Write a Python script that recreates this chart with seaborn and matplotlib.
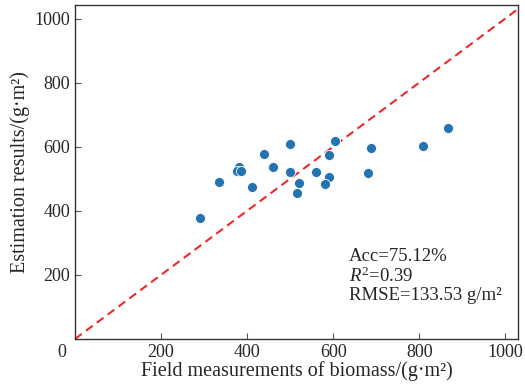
import matplotlib
matplotlib.use("Agg")
import matplotlib.pyplot as plt
import seaborn as sns
import pandas as pd

measured = [291, 335, 380, 376, 386, 412, 440, 459, 500, 500, 521, 515, 560, 590, 590, 581, 605, 689, 682, 808, 866]
estimated = [378, 490, 538, 525, 523, 474, 578, 538, 608, 520, 486, 454, 520, 574, 505, 483, 619, 596, 518, 603, 659]
ticks = [200, 400, 600, 800, 1000]
stats_text = ["Acc=75.12%", "$R^2$=0.39", "RMSE=133.53 g/m²"]

sns.set_style("ticks")
plt.rcParams['font.family'] = ['Liberation Serif', 'DejaVu Serif']
plt.rcParams['mathtext.fontset'] = 'custom'
plt.rcParams['mathtext.rm'] = 'Liberation Serif'
plt.rcParams['mathtext.it'] = 'Liberation Serif:italic'

df = pd.DataFrame({"measured": measured, "estimated": estimated})

fig = plt.figure(figsize=(5.25, 3.9), dpi=100)
ax = fig.add_axes([0.143, 0.131, 0.844, 0.856])

ax.plot([0, 1100], [0, 1100], linestyle=(0, (4, 2.5)), color="#f02828", linewidth=1.5, zorder=1)
sns.scatterplot(data=df, x="measured", y="estimated", ax=ax, s=52, color="#2474b0",
                edgecolor="white", linewidth=0.6, zorder=3)

ax.set_xlim(0, 1030)
ax.set_ylim(0, 1042)
ax.set_xticks(ticks)
ax.set_yticks(ticks)
ax.set_xticklabels([str(t) for t in ticks], fontsize=13)
ax.set_yticklabels([str(t) for t in ticks], fontsize=13)
ax.tick_params(direction="in", length=4, width=0.8, color="#555555")
for s in ax.spines.values():
    s.set_visible(True)
    s.set_color("#333333")
    s.set_linewidth(1.0)

ax.text(-0.03, -0.04, "0", transform=ax.transAxes, ha="center", va="center", fontsize=13)

ax.set_xlabel("Field measurements of biomass/(g·m²)", fontsize=14.5, labelpad=0)
ax.set_ylabel("Estimation results/(g·m²)", fontsize=14.5, labelpad=3)

ax.text(636, 197, "\n".join(stats_text), fontsize=13.5, ha="left", va="center", linespacing=1.1)

fig.savefig("out.png", dpi=100)
